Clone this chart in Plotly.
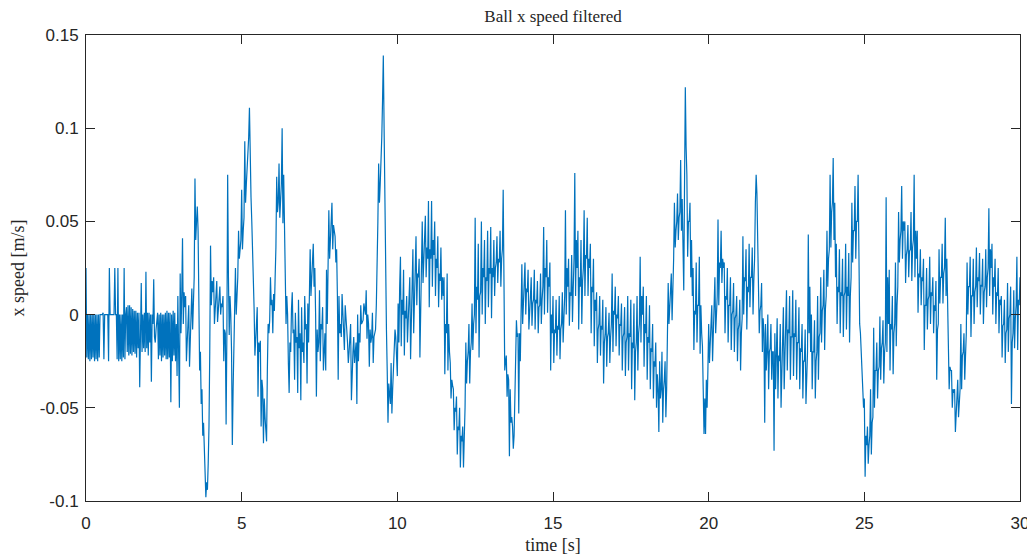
import plotly.graph_objects as go

# Ball x speed [m/s]: four samples per 0.1 s (t = 0, 0.025, ..., 30.0)
speed = [
    # 0 - 1 s
    0.025, -0.023, 0.000, -0.024,  0.000, -0.025, 0.000, -0.024,  0.000, -0.023, 0.000, -0.025,
    0.000, -0.024, 0.000, -0.025,  0.000, -0.023, 0.000, 0.000,  0.000, 0.000, 0.001, -0.024,
    0.000, 0.000, 0.000, 0.000,  0.000, -0.025, 0.025, 0.000,  0.000, 0.000, 0.000, 0.000,
    0.000, 0.025, 0.000, 0.000,
    # 1 - 2 s
    -0.024, 0.025, -0.025, 0.000,  -0.024, 0.000, -0.025, 0.000,  -0.023, 0.025, -0.024, 0.000,
    0.004, -0.020, 0.005, -0.022,  0.005, -0.021, 0.004, -0.022,  0.003, -0.020, 0.002, -0.021,
    0.002, -0.023, 0.001, -0.018,  0.001, -0.039, 0.000, 0.017,  -0.020, 0.000, -0.018, 0.001,
    -0.020, 0.023, -0.018, 0.001,
    # 2 - 3 s
    -0.022, 0.001, -0.015, 0.000,  -0.036, 0.000, -0.005, 0.019,  -0.012, -0.015, -0.008, -0.002,
    0.001, -0.024, 0.000, -0.022,  0.001, -0.025, 0.000, -0.023,  0.000, -0.022, 0.001, -0.024,
    0.002, -0.024, 0.001, -0.023,  0.001, -0.047, 0.000, -0.025,  0.002, -0.022, 0.001, -0.025,
    -0.005, -0.033, 0.010, -0.020,
    # 3 - 4 s
    -0.050, 0.022, -0.010, 0.010,  0.041, -0.005, 0.012, 0.004,  0.010, -0.025, -0.012, -0.004,
    0.005, -0.028, -0.015, -0.002,  0.014, -0.008, 0.002, 0.020,  0.073, 0.040, 0.050, 0.058,
    0.045, 0.010, -0.030, -0.020,  -0.048, -0.040, -0.065, -0.058,  -0.075, -0.085, -0.098, -0.090,
    -0.094, -0.080, -0.060, -0.020,
    # 4 - 5 s
    0.037, 0.005, 0.018, 0.012,  0.020, -0.005, 0.006, 0.010,  0.018, -0.004, 0.004, 0.008,
    0.015, 0.000, 0.006, 0.004,  0.010, -0.025, -0.008, -0.010,  -0.059, -0.010, 0.075, 0.020,
    -0.011, 0.010, 0.000, -0.020,  -0.070, -0.040, -0.015, 0.005,  0.025, 0.000, 0.012, 0.020,
    0.045, 0.030, 0.035, 0.040,
    # 5 - 6 s
    0.067, 0.035, 0.045, 0.052,  0.093, 0.060, 0.070, 0.078,  0.085, 0.095, 0.111, 0.080,
    0.063, 0.050, 0.036, 0.030,  0.003, -0.022, -0.008, -0.005,  0.004, -0.044, -0.015, -0.020,
    -0.014, -0.060, -0.035, -0.040,  -0.069, -0.045, -0.055, -0.060,  -0.068, -0.030, -0.005, -0.010,
    -0.003, 0.020, 0.005, 0.008,
    # 6 - 7 s
    -0.010, 0.011, 0.002, 0.020,  0.036, 0.074, 0.055, 0.060,  0.081, 0.052, 0.065, 0.070,
    0.100, 0.049, 0.075, 0.040,  0.022, -0.005, 0.010, 0.000,  -0.026, -0.042, -0.015, -0.020,
    0.003, 0.012, -0.010, -0.008,  -0.035, 0.001, -0.015, -0.012,  -0.042, 0.008, -0.018, -0.010,
    -0.046, 0.004, -0.020, -0.015,
    # 7 - 8 s
    -0.026, 0.010, -0.008, -0.005,  -0.037, 0.006, -0.015, 0.015,  0.035, 0.010, 0.020, 0.025,
    0.038, 0.015, 0.025, 0.000,  -0.044, -0.008, -0.020, -0.015,  0.013, -0.025, -0.005, -0.008,
    0.004, -0.030, -0.012, -0.010,  -0.030, 0.024, -0.005, 0.035,  0.056, 0.030, 0.042, 0.045,
    0.060, 0.035, 0.048, 0.045,
    # 8 - 9 s
    0.042, 0.028, 0.035, 0.010,  -0.035, 0.010, -0.010, -0.005,  -0.012, 0.011, 0.000, -0.003,
    -0.019, 0.005, -0.005, -0.008,  -0.015, -0.026, -0.020, -0.010,  -0.005, -0.046, -0.025, -0.020,
    -0.012, -0.026, -0.020, -0.015,  -0.048, 0.000, -0.025, -0.010,  -0.015, 0.005, -0.005, -0.004,
    -0.003, 0.006, 0.002, 0.000,
    # 9 - 10 s
    0.013, -0.013, 0.000, -0.005,  -0.028, -0.008, -0.015, -0.012,  0.001, -0.026, -0.012, -0.010,
    -0.008, 0.005, 0.022, 0.050,  0.081, 0.060, 0.070, 0.080,  0.095, 0.115, 0.139, 0.100,
    0.049, 0.020, -0.008, -0.030,  -0.058, -0.037, -0.045, -0.048,  -0.026, -0.053, -0.040, -0.030,
    -0.019, -0.008, -0.012, -0.020,
    # 10 - 11 s
    -0.033, 0.006, -0.015, 0.015,  0.031, -0.017, 0.008, 0.000,  0.024, -0.022, 0.002, -0.002,
    0.010, -0.015, -0.003, 0.002,  0.020, -0.024, -0.002, 0.005,  0.035, -0.010, 0.012, 0.015,
    0.042, 0.005, 0.022, 0.020,  0.030, -0.023, 0.005, 0.010,  0.050, 0.017, 0.032, 0.035,
    0.053, 0.020, 0.036, 0.030,
    # 11 - 12 s
    0.061, 0.004, 0.035, 0.030,  0.061, 0.015, 0.040, 0.032,  0.050, 0.010, 0.030, 0.025,
    0.042, 0.004, 0.022, 0.018,  0.036, 0.008, 0.020, 0.010,  0.020, -0.032, -0.005, -0.010,
    0.022, -0.030, -0.005, -0.020,  -0.026, -0.045, -0.035, -0.038,  -0.040, -0.062, -0.050, -0.052,
    -0.044, -0.075, -0.060, -0.062,
    # 12 - 13 s
    -0.050, -0.082, -0.065, -0.068,  -0.060, -0.082, -0.070, -0.050,  -0.015, -0.037, -0.025, -0.020,
    -0.005, -0.037, -0.020, -0.015,  0.006, -0.019, -0.005, 0.000,  0.052, -0.010, 0.015, 0.008,
    0.038, -0.023, 0.010, 0.012,  0.050, 0.000, 0.025, 0.020,  0.040, -0.005, 0.020, 0.018,
    0.045, 0.004, 0.025, 0.022,
    # 13 - 14 s
    0.047, -0.002, 0.025, 0.020,  0.040, 0.010, 0.025, 0.028,  0.042, 0.017, 0.030, 0.028,
    0.045, 0.015, 0.030, 0.035,  0.067, 0.020, -0.030, -0.025,  -0.022, -0.044, -0.032, -0.035,
    -0.076, -0.040, -0.058, -0.055,  -0.060, -0.072, -0.065, -0.045,  -0.020, -0.003, -0.012, -0.010,
    -0.053, -0.010, -0.025, 0.005,
    # 14 - 15 s
    0.027, -0.005, 0.010, 0.012,  0.028, 0.000, 0.014, 0.012,  0.024, -0.008, 0.008, 0.010,
    0.020, -0.006, 0.006, 0.008,  0.024, -0.008, 0.008, 0.006,  0.018, -0.010, 0.004, 0.005,
    0.022, -0.005, 0.008, 0.015,  0.047, 0.000, 0.025, 0.020,  0.040, 0.001, 0.020, 0.015,
    0.028, -0.030, 0.000, -0.010,
    # 15 - 16 s
    0.010, -0.026, -0.008, -0.010,  0.008, -0.022, -0.006, -0.008,  0.010, -0.024, -0.008, -0.005,
    0.012, -0.015, -0.002, 0.010,  0.056, 0.000, 0.025, 0.015,  0.030, -0.006, 0.012, 0.010,
    0.032, -0.004, 0.014, 0.030,  0.076, 0.010, 0.040, 0.025,  0.045, -0.008, 0.020, 0.015,
    0.040, -0.005, 0.018, 0.025,
    # 16 - 17 s
    0.056, 0.010, 0.032, 0.030,  0.052, 0.010, 0.030, 0.025,  0.038, -0.010, 0.015, 0.012,
    0.030, -0.017, 0.008, 0.002,  0.012, -0.026, -0.008, -0.005,  0.010, -0.022, -0.006, -0.008,
    0.008, -0.037, -0.015, -0.010,  0.004, -0.028, -0.012, -0.010,  0.001, -0.026, -0.012, -0.005,
    0.022, -0.020, 0.002, 0.000,
    # 17 - 18 s
    0.015, -0.017, 0.000, -0.002,  0.010, -0.022, -0.005, -0.006,  0.006, -0.030, -0.012, -0.010,
    0.004, -0.033, -0.015, -0.012,  0.010, -0.030, -0.010, -0.012,  0.008, -0.040, -0.015, -0.018,
    0.006, -0.046, -0.020, -0.015,  0.010, -0.030, -0.010, -0.005,  0.031, -0.015, 0.010, 0.000,
    0.015, -0.028, -0.005, -0.010,
    # 18 - 19 s
    0.010, -0.035, -0.012, -0.015,  0.005, -0.040, -0.018, -0.020,  -0.005, -0.045, -0.025, -0.028,
    -0.015, -0.050, -0.032, -0.040,  -0.063, -0.025, -0.045, -0.040,  -0.020, -0.058, -0.040, -0.035,
    -0.025, -0.055, -0.040, -0.020,  0.017, -0.005, 0.005, 0.008,  0.022, -0.003, 0.010, 0.030,
    0.060, 0.036, 0.045, 0.050,
    # 19 - 20 s
    0.065, 0.040, 0.052, 0.055,  0.083, 0.045, 0.062, 0.030,  0.013, 0.070, 0.122, 0.090,
    0.075, 0.031, 0.050, 0.050,  0.060, 0.020, 0.040, 0.010,  0.025, -0.019, 0.002, 0.000,
    0.028, -0.015, 0.005, 0.005,  0.031, -0.021, 0.005, -0.010,  -0.017, -0.040, -0.064, -0.045,
    -0.064, -0.035, -0.050, -0.030,
    # 20 - 21 s
    -0.005, -0.026, -0.015, -0.012,  0.005, -0.025, -0.010, -0.005,  0.020, -0.010, 0.005, 0.010,
    0.051, 0.005, 0.028, 0.025,  0.045, 0.017, 0.030, 0.025,  0.028, -0.010, 0.010, 0.008,
    0.025, -0.015, 0.005, 0.005,  0.020, -0.019, 0.000, 0.002,  0.017, -0.020, -0.002, 0.000,
    0.010, -0.025, -0.008, -0.005,
    # 21 - 22 s
    0.008, -0.030, -0.010, -0.002,  0.042, 0.000, 0.020, 0.018,  0.035, -0.008, 0.015, 0.012,
    0.038, 0.004, 0.020, 0.020,  0.036, 0.000, 0.018, 0.030,  0.060, 0.075, 0.065, 0.040,
    0.015, -0.010, 0.002, 0.005,  0.017, -0.020, -0.002, -0.010,  -0.058, -0.005, -0.030, -0.020,
    0.000, -0.040, -0.020, -0.018,
    # 22 - 23 s
    -0.005, -0.035, -0.020, -0.020,  -0.073, -0.010, -0.040, -0.025,  -0.002, -0.045, -0.022, -0.025,
    -0.005, -0.050, -0.028, -0.025,  0.004, -0.040, -0.018, -0.015,  0.013, -0.030, -0.008, -0.010,
    0.010, -0.035, -0.012, -0.012,  0.013, -0.033, -0.010, -0.012,  0.008, -0.035, -0.015, -0.015,
    0.004, -0.040, -0.018, -0.020,
    # 23 - 24 s
    -0.005, -0.045, -0.025, -0.025,  -0.008, -0.048, -0.028, -0.020,  0.043, -0.010, 0.015, -0.020,
    0.000, -0.040, -0.020, -0.020,  -0.003, -0.045, -0.025, -0.020,  0.010, -0.035, -0.012, -0.010,
    0.020, -0.015, 0.002, 0.005,  0.024, -0.019, 0.003, 0.010,  0.045, 0.015, 0.030, 0.035,
    0.075, 0.036, 0.055, 0.060,
    # 24 - 25 s
    0.084, 0.040, 0.060, 0.020,  0.038, -0.005, 0.015, 0.012,  0.035, -0.010, 0.012, 0.010,
    0.030, -0.012, 0.010, 0.012,  0.038, -0.008, 0.015, 0.010,  0.033, -0.015, 0.010, 0.020,
    0.060, 0.028, 0.045, 0.045,  0.069, 0.030, 0.050, 0.050,  0.075, 0.030, -0.005, -0.010,
    -0.017, -0.030, -0.040, -0.050,
    # 25 - 26 s
    -0.045, -0.087, -0.065, -0.070,  -0.060, -0.080, -0.070, -0.065,  -0.040, -0.075, -0.058, -0.055,
    -0.007, -0.050, -0.030, -0.030,  -0.015, -0.045, -0.030, -0.028,  -0.001, -0.035, -0.018, -0.015,
    -0.003, -0.037, -0.020, -0.015,  0.063, -0.020, 0.020, -0.005,  0.024, -0.030, -0.005, -0.008,
    0.010, -0.032, -0.010, -0.005,
    # 26 - 27 s
    0.028, -0.017, 0.005, 0.015,  0.055, 0.028, 0.040, 0.045,  0.069, 0.030, 0.050, 0.045,
    0.050, 0.017, 0.032, 0.035,  0.048, 0.020, 0.034, 0.035,  0.055, 0.018, 0.036, 0.040,
    0.075, 0.020, 0.045, 0.030,  0.045, 0.001, 0.022, 0.020,  0.035, 0.005, 0.020, 0.018,
    0.030, -0.019, 0.005, 0.005,
    # 27 - 28 s
    0.025, -0.008, 0.008, 0.010,  0.031, -0.005, 0.012, 0.010,  0.020, -0.010, 0.005, 0.002,
    0.018, -0.035, -0.008, -0.005,  0.035, 0.006, 0.020, 0.020,  0.038, 0.006, 0.022, 0.025,
    0.052, 0.010, 0.030, -0.005,  -0.017, -0.040, -0.028, -0.030,  -0.030, -0.050, -0.040, -0.042,
    -0.040, -0.063, -0.052, -0.050,
    # 28 - 29 s
    -0.035, -0.055, -0.045, -0.040,  -0.005, -0.040, -0.022, -0.020,  -0.010, -0.035, -0.022, -0.010,
    0.028, 0.000, 0.015, 0.015,  0.031, -0.012, 0.010, 0.010,  0.030, -0.005, 0.012, 0.015,
    0.036, 0.004, 0.020, 0.018,  0.033, 0.000, 0.016, 0.015,  0.030, -0.005, 0.012, 0.015,
    0.035, 0.004, 0.020, 0.025,
    # 29 - 30 s
    0.057, 0.010, 0.035, 0.025,  0.038, 0.000, 0.020, 0.015,  0.030, -0.005, 0.012, 0.010,
    0.025, -0.010, 0.008, 0.005,  0.010, -0.023, -0.006, -0.005,  0.008, -0.026, -0.010, -0.008,
    0.017, -0.020, -0.002, 0.000,  0.015, -0.048, -0.015, -0.010,  0.013, -0.018, -0.002, 0.005,
    0.031, -0.019, 0.008, 0.005,
    0.020,
]
sample_step = 0.025
time = [k * sample_step for k in range(len(speed))]

x_ticks = [0, 5, 10, 15, 20, 25, 30]
y_ticks = [-0.1, -0.05, 0, 0.05, 0.1, 0.15]
y_tick_text = ["-0.1", "-0.05", "0", "0.05", "0.1", "0.15"]

fig = go.Figure()
fig.add_trace(go.Scatter(
    x=time, y=speed, mode="lines",
    line=dict(color="#0072BD", width=1.2),
    showlegend=False, hoverinfo="skip",
))

axis_common = dict(
    showline=True, linecolor="#262626", linewidth=1, mirror="allticks",
    ticks="inside", ticklen=9, tickwidth=1, tickcolor="#262626",
    showgrid=False, zeroline=False, automargin=False,
    tickfont=dict(family="Liberation Sans, Arial, sans-serif", size=17, color="#262626"),
)

# the page adds an 8 px body margin, so the figure is sized 8 px smaller
fig.update_layout(
    width=1027, height=548,
    margin=dict(l=78, r=15, t=27, b=55),
    paper_bgcolor="white", plot_bgcolor="white",
    title=dict(
        text="Ball x speed filtered", x=0.5, xref="paper", xanchor="center",
        y=1, yref="container", yanchor="top", pad=dict(t=2),
        font=dict(family="Liberation Serif, Times New Roman, serif", size=17, color="#262626"),
    ),
    xaxis=dict(
        range=[0, 30], tickvals=x_ticks, ticklabelstandoff=7, **axis_common,
        title=dict(text="time [s]", standoff=5,
                   font=dict(family="Liberation Serif, serif", size=18, color="#262626")),
    ),
    yaxis=dict(
        range=[-0.1, 0.15], tickvals=y_ticks, ticktext=y_tick_text, ticklabelstandoff=3,
        **axis_common,
        title=dict(text="x speed [m/s]", standoff=10,
                   font=dict(family="Liberation Serif, serif", size=18, color="#262626")),
    ),
)

fig.write_html("out.html")
